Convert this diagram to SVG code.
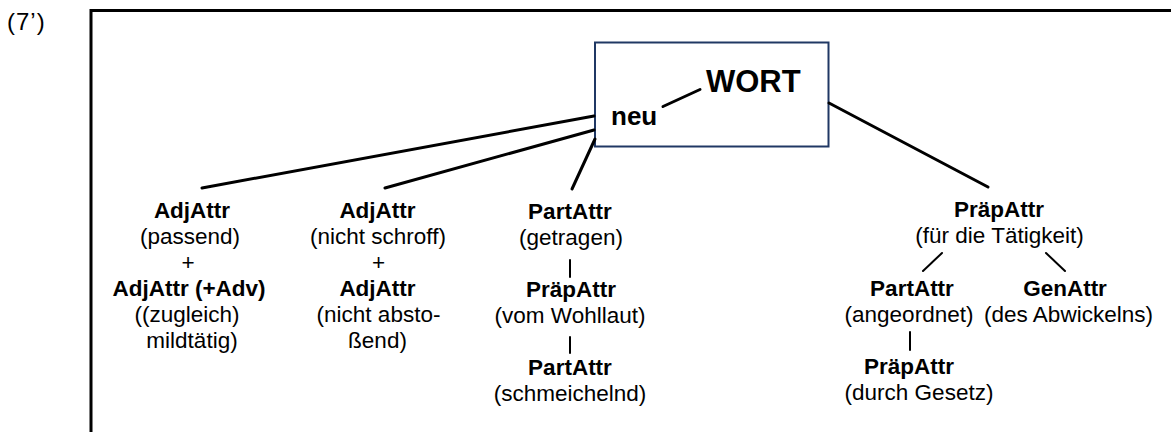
<svg xmlns="http://www.w3.org/2000/svg" width="1171" height="432" viewBox="0 0 1171 432">
<style>
text{font-family:"Liberation Sans",Arial,sans-serif;fill:#000;text-anchor:middle}
.b{font-weight:bold;font-size:22.5px}
.r{font-size:22.5px}
.conn line{stroke:#000;stroke-linecap:round}
.thick{stroke-width:3}
.thin{stroke-width:2}
</style>
<rect width="1171" height="432" fill="#fff"/>
<text x="7" y="30" style="text-anchor:start;font-size:24px;letter-spacing:1px">(7’)</text>
<path d="M91,432 V10.5 H1171" fill="none" stroke="#000" stroke-width="3"/>
<g id="root">
<rect x="595" y="42.5" width="233.5" height="104" fill="#fff" stroke="#203864" stroke-width="2"/>
<text x="706" y="92" style="text-anchor:start;font-weight:bold;font-size:31px">WORT</text>
<text x="611" y="125" style="text-anchor:start;font-weight:bold;font-size:26px">neu</text>
</g>
<g class="conn">
<line class="thick" x1="663" y1="106.5" x2="700" y2="89.5"/>
<line class="thick" x1="594" y1="116" x2="202" y2="188"/>
<line class="thick" x1="594" y1="130" x2="385" y2="188"/>
<line class="thick" x1="595" y1="139" x2="572" y2="189"/>
<line class="thick" x1="829" y1="103" x2="988" y2="187"/>
<line class="thin" x1="570" y1="260" x2="570" y2="277"/>
<line class="thin" x1="570" y1="337" x2="570" y2="353"/>
<line class="thin" x1="942" y1="253" x2="923" y2="271"/>
<line class="thin" x1="1046" y1="253" x2="1065" y2="271"/>
<line class="thin" x1="910" y1="332" x2="910" y2="350"/>
</g>
<g id="n1">
<text class="b" x="192" y="218">AdjAttr</text>
<text class="r" x="190" y="244">(passend)</text>
<text class="r" x="188" y="270">+</text>
<text class="b" x="189" y="296">AdjAttr (+Adv)</text>
<text class="r" x="187" y="322">((zugleich)</text>
<text class="r" x="192" y="348">mildtätig)</text>
</g>
<g id="n2">
<text class="b" x="377.5" y="218">AdjAttr</text>
<text class="r" x="378" y="244">(nicht schroff)</text>
<text class="r" x="378.5" y="270">+</text>
<text class="b" x="377.5" y="296">AdjAttr</text>
<text class="r" x="378.5" y="322">(nicht absto-</text>
<text class="r" x="377.5" y="348">ßend)</text>
</g>
<g id="n3">
<text class="b" x="570" y="219">PartAttr</text>
<text class="r" x="571" y="245">(getragen)</text>
<text class="b" x="571" y="297">PräpAttr</text>
<text class="r" x="570" y="323">(vom Wohllaut)</text>
<text class="b" x="570" y="375">PartAttr</text>
<text class="r" x="570" y="401">(schmeichelnd)</text>
</g>
<g id="n4">
<text class="b" x="999" y="217">PräpAttr</text>
<text class="r" x="999.5" y="243">(für die Tätigkeit)</text>
</g>
<g id="n5">
<text class="b" x="912" y="296">PartAttr</text>
<text class="r" x="909" y="322">(angeordnet)</text>
<text class="b" x="909" y="374">PräpAttr</text>
<text class="r" x="919" y="400">(durch Gesetz)</text>
</g>
<g id="n6">
<text class="b" x="1065" y="296">GenAttr</text>
<text class="r" x="1068.5" y="322">(des Abwickelns)</text>
</g>
</svg>
